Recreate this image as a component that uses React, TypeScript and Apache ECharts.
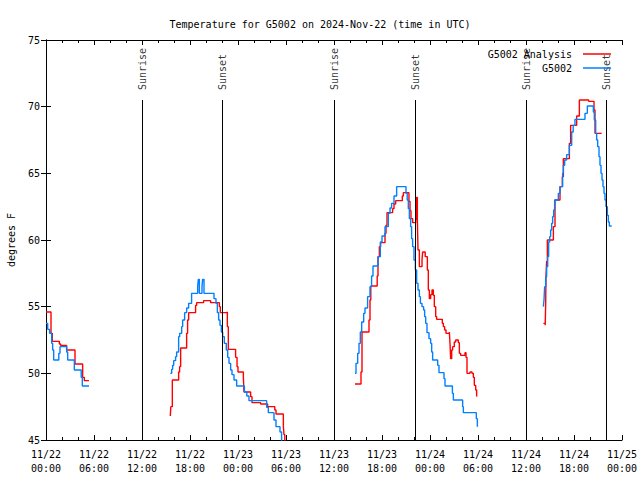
import React, { useEffect, useRef } from "react";
import * as echarts from "echarts";

type Pt = [number, number];

// hours since 2024-11-22 00:00 UTC, degrees F
const analysisNight1: Pt[] = [[0,54.6],[0.625,53.0],[0.79,52.4],[1.67,52.2],[1.83,52.1],[2.58,51.75],[3.625,50.7],[4.58,49.7],[4.79,49.45],[5.375,49.45]];
const analysisDay1: Pt[] = [[15.54,46.8],[15.6,47.5],[15.79,49.5],[16.58,50.1],[16.7,50.5],[16.83,51.9],[17.58,53.0],[17.7,54.0],[17.83,54.55],[18.7,55.1],[18.83,55.3],[19.7,55.45],[20.58,55.3],[21.67,55.0],[21.79,54.55],[22.58,54.6],[22.67,53.5],[22.79,51.8],[23.7,51.2],[23.88,50.5],[24.0,50.1],[24.67,49.7],[24.75,48.6],[25.58,48.25],[25.75,47.8],[26.83,47.7],[27.7,47.5],[28.6,47.25],[28.75,46.95],[29.67,46.0],[29.75,45.4],[29.85,44.5],[30.0,44.5]];
const analysisDay2: Pt[] = [[38.625,49.2],[39.375,50.1],[39.5,53.1],[40.375,54.0],[40.5,55.5],[40.6,56.55],[41.4,57.3],[41.5,58.75],[41.67,59.5],[41.83,59.8],[42.375,60.5],[42.5,61.1],[42.625,62.05],[43.33,62.35],[43.5,62.7],[43.71,62.95],[44.54,63.3],[44.67,63.55],[45.37,62.9],[45.5,62.2],[45.625,61.6],[45.83,61.3],[46.21,62.4],[46.29,61.5],[46.33,63.2],[46.42,61.5],[46.5,59.25],[46.67,58.0],[47.0,58.5],[47.08,59.1],[47.4,58.75],[47.67,57.75],[47.79,56.25],[47.92,55.6],[48.08,55.9],[48.25,56.25],[48.42,55.85],[48.54,55.0],[48.71,54.25],[48.83,54.05],[49.54,53.75],[49.67,53.5],[49.83,53.25],[50.0,53.0],[50.42,53.1],[50.5,52.25],[50.58,51.1],[50.71,51.75],[50.83,52.0],[51.04,52.35],[51.21,52.5],[51.54,52.3],[51.67,51.5],[51.83,51.35],[52.375,51.55],[52.5,51.2],[52.625,50.0],[53.0,50.1],[53.25,50.0],[53.42,49.7],[53.54,49.1],[53.71,48.75],[53.83,48.3],[53.92,48.3]];
const analysisDay3: Pt[] = [[62.17,53.75],[62.4,53.6],[62.46,55.25],[62.5,57.25],[62.58,58.4],[62.67,60.0],[63.42,61.0],[63.625,63.0],[64.25,64.0],[64.54,64.75],[64.67,66.1],[65.42,67.25],[65.58,68.6],[66.33,69.3],[66.67,70.5],[67.83,70.4],[68.5,69.75],[68.625,68.0],[69.46,68.0]];

const observedNight1: Pt[] = [[0,53.75],[0.21,53.3],[0.45,53.0],[0.71,52.25],[0.83,51.75],[0.96,51.0],[1.6,51.5],[1.75,52.0],[2.58,51.6],[2.71,51.0],[3.54,50.25],[4.4,49.7],[4.54,49.05],[5.375,49.05]];
const observedDay1: Pt[] = [[15.54,50.0],[15.71,50.3],[15.83,50.6],[15.96,50.95],[16.2,51.25],[16.33,51.6],[16.58,52.75],[16.71,53.0],[16.96,53.5],[17.08,54.0],[17.33,54.55],[17.58,54.9],[17.83,55.25],[18.2,56.0],[18.96,56.5],[19.04,57.05],[19.17,56.0],[19.5,56.5],[19.58,57.05],[19.75,56.0],[21.0,55.6],[21.25,55.25],[21.42,54.55],[21.58,54.0],[21.75,53.6],[21.92,53.1],[22.08,52.75],[22.29,52.25],[22.54,51.75],[22.71,51.2],[22.875,50.75],[23.08,50.25],[23.25,49.9],[23.5,49.5],[23.83,49.05],[24.8,48.6],[25.1,48.3],[25.37,47.95],[27.58,47.45],[27.79,47.05],[28.5,46.5],[28.75,46.0],[29.25,45.6],[29.45,44.5],[29.6,44.5]];
const observedDay2: Pt[] = [[38.625,50.0],[38.75,50.75],[38.96,51.5],[39.125,52.25],[39.29,53.1],[39.46,53.85],[39.71,54.5],[39.875,54.9],[40.2,55.75],[40.5,56.5],[40.7,57.3],[40.875,58.05],[41.5,58.75],[41.79,59.85],[42.0,60.3],[42.375,61.0],[42.79,62.0],[43.0,62.4],[43.2,62.75],[43.5,63.3],[43.83,64.0],[45.0,63.5],[45.15,63.0],[45.29,62.35],[45.42,61.6],[45.58,61.0],[45.7,60.1],[45.83,59.5],[46.0,58.5],[46.17,57.75],[46.33,56.75],[46.5,56.25],[46.67,55.75],[46.8,55.25],[47.0,55.0],[47.2,54.75],[47.33,54.25],[47.46,53.75],[47.625,53.05],[47.875,52.6],[48.08,52.25],[48.21,51.6],[48.33,51.0],[48.96,50.6],[49.125,50.05],[49.75,49.6],[49.875,49.05],[50.8,48.5],[50.92,48.0],[52.08,47.5],[52.17,47.05],[53.79,46.6],[53.92,46.0]];
const observedDay3: Pt[] = [[62.17,55.0],[62.25,55.5],[62.33,56.5],[62.46,57.25],[62.58,58.0],[62.71,58.75],[62.83,59.85],[62.96,60.25],[63.08,60.75],[63.21,61.25],[63.33,61.75],[63.46,62.25],[63.58,63.0],[64.04,63.5],[64.25,64.0],[64.58,65.0],[64.67,65.6],[64.83,66.0],[65.08,66.4],[65.42,67.1],[65.71,68.1],[65.9,68.6],[66.12,69.05],[67.375,69.5],[67.67,70.05],[68.42,69.6],[68.54,69.0],[68.71,68.0],[68.83,67.5],[68.96,67.0],[69.125,66.25],[69.25,65.6],[69.375,65.0],[69.5,64.5],[69.625,64.0],[69.75,63.5],[69.875,63.0],[70.0,62.5],[70.17,61.85],[70.29,61.35],[70.42,61.05],[70.71,61.05]];

const sunNames = ["Sunrise", "Sunset", "Sunrise", "Sunset", "Sunrise", "Sunset"];
const sunHours = [12.0, 22.09, 36.0, 46.15, 60.0, 70.06];

const xTickLabels = [
  "11/22\n00:00", "11/22\n06:00", "11/22\n12:00", "11/22\n18:00",
  "11/23\n00:00", "11/23\n06:00", "11/23\n12:00", "11/23\n18:00",
  "11/24\n00:00", "11/24\n06:00", "11/24\n12:00", "11/24\n18:00",
  "11/25\n00:00",
];

const TITLE = "Temperature for G5002 on 2024-Nov-22 (time in UTC)";
const ANALYSIS = "G5002 Analysis";
const OBSERVED = "G5002";
const RED = "#ff0000";
const BLUE = "#0080ff";
const FONT = "'DejaVu Sans Mono', monospace";

export default function App() {
  const ref = useRef<HTMLDivElement>(null);
  useEffect(() => {
    document.body.style.margin = "0";
    const chart = echarts.init(ref.current!, null, { renderer: "svg" });
    const lineSeries = (name: string, color: string, data: Pt[], z: number) => ({
      type: "line",
      name,
      data,
      step: "end",
      showSymbol: false,
      symbol: "none",
      lineStyle: { color, width: 1.4 },
      itemStyle: { color },
      z,
    });
    const xBase = {
      type: "value",
      min: 0,
      max: 72,
      interval: 6,
      splitLine: { show: false },
      axisLine: { lineStyle: { color: "#000", width: 1 } },
      axisTick: { inside: true, length: 5, lineStyle: { color: "#000" } },
      minorTick: { show: true, splitNumber: 3, length: 3, lineStyle: { color: "#000" } },
    };
    const yBase = {
      type: "value",
      min: 45,
      max: 75,
      interval: 5,
      splitLine: { show: false },
      axisLine: { lineStyle: { color: "#000", width: 1 } },
      axisTick: { inside: true, length: 5, lineStyle: { color: "#000" } },
    };
    const option: any = {
      animation: false,
      backgroundColor: "#fff",
      title: {
        text: TITLE,
        left: "center",
        top: 14,
        textStyle: { fontFamily: FONT, fontSize: 10, fontWeight: "normal", color: "#000" },
      },
      legend: {
        data: [ANALYSIS, OBSERVED],
        orient: "vertical",
        right: 24,
        top: 43,
        align: "right",
        icon: "rect",
        itemWidth: 28,
        itemHeight: 1.5,
        itemGap: 2,
        formatter: (n: string) => n + "\u2009",
        textStyle: { fontFamily: FONT, fontSize: 10, color: "#000", lineHeight: 12 },
      },
      grid: { left: 46, right: 18, top: 40, bottom: 40, containLabel: false, outerBoundsMode: "none" },
      xAxis: [
        {
          ...xBase,
          position: "bottom",
          axisLabel: {
            formatter: (v: number) => xTickLabels[Math.round(v / 6)] ?? "",
            fontFamily: FONT,
            fontSize: 10,
            color: "#000",
            margin: 7,
            lineHeight: 14,
          },
        },
        { ...xBase, position: "top", axisLabel: { show: false } },
      ],
      yAxis: [
        {
          ...yBase,
          position: "left",
          name: "degrees F",
          nameLocation: "middle",
          nameGap: 30,
          nameTextStyle: { fontFamily: FONT, fontSize: 10, color: "#000" },
          axisLabel: { fontFamily: FONT, fontSize: 10, color: "#000", margin: 6 },
        },
        { ...yBase, position: "right", axisLabel: { show: false } },
      ],
      series: [
        {
          type: "scatter",
          name: "sun",
          data: sunHours.map((h, i) => ({ name: sunNames[i], value: [h, 71.1] })),
          symbolSize: 1,
          itemStyle: { color: "rgba(0,0,0,0)" },
          silent: true,
          label: {
            show: true,
            formatter: "{b}",
            position: "inside",
            rotate: 90,
            align: "left",
            verticalAlign: "middle",
            offset: [2, 0],
            fontFamily: FONT,
            fontSize: 10,
            color: "#000",
          },
          markLine: {
            silent: true,
            symbol: ["none", "none"],
            label: { show: false },
            lineStyle: { color: "#000", width: 1, type: "solid" },
            data: sunHours.map((h) => [{ coord: [h, 45] }, { coord: [h, 70.5] }]),
          },
          z: 2,
        },
        ...[analysisNight1, analysisDay1, analysisDay2, analysisDay3].map((d) => lineSeries(ANALYSIS, RED, d, 3)),
        ...[observedNight1, observedDay1, observedDay2, observedDay3].map((d) => lineSeries(OBSERVED, BLUE, d, 4)),
      ],
    };
    chart.setOption(option);
    return () => chart.dispose();
  }, []);
  return <div ref={ref} style={{ width: 640, height: 480 }} />;
}
